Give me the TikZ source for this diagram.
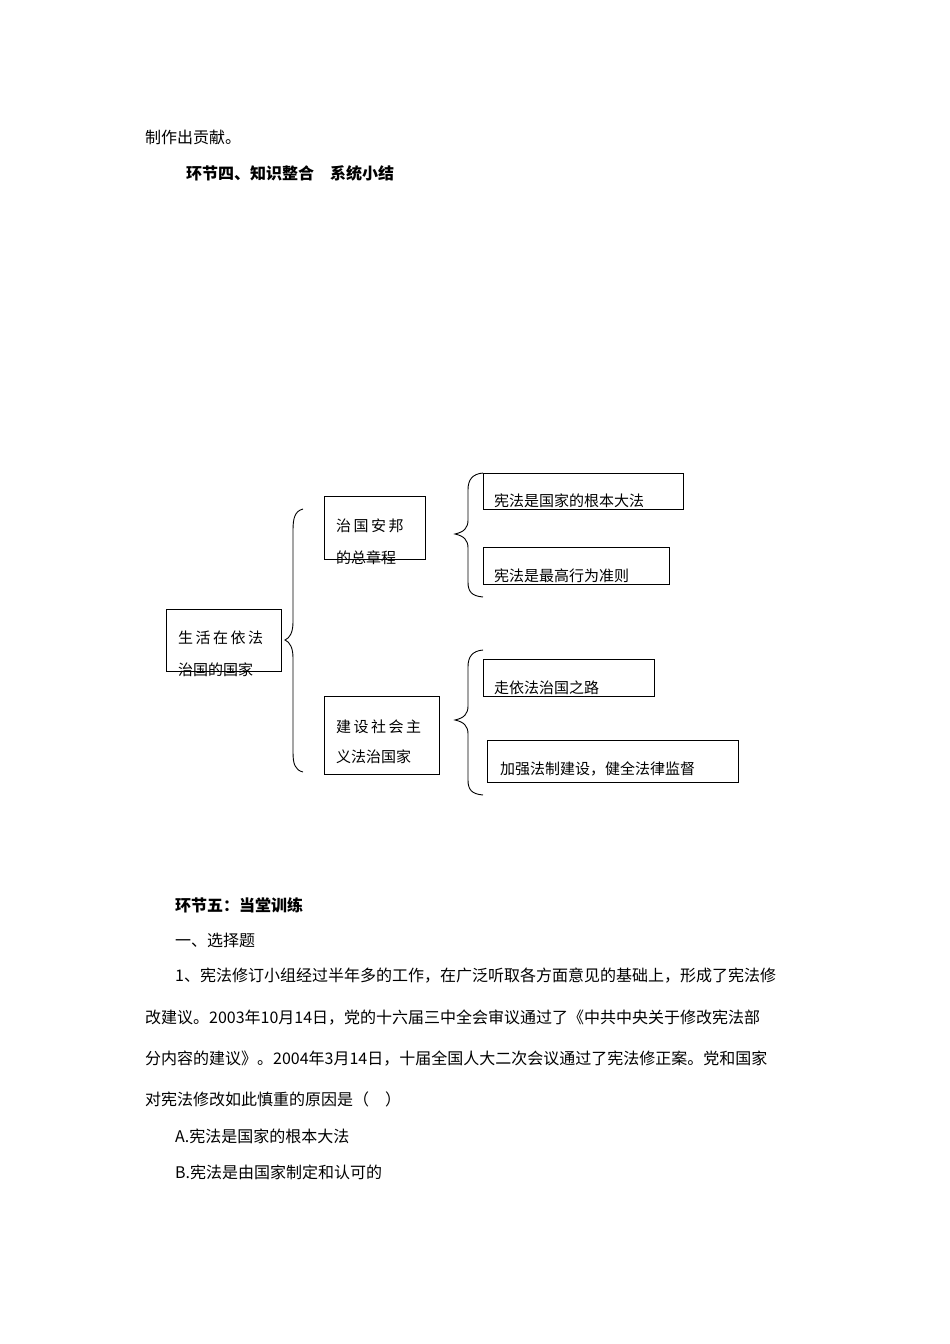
\documentclass[tikz,border=0pt]{standalone}
\usepackage{fontspec}
\setmainfont{Noto Sans CJK SC}
\newfontfamily\cjkb[BoldFont={* Bold}]{Noto Sans CJK SC}
\begin{document}
\begin{tikzpicture}[x=1pt,y=-1pt,
  bx/.style={draw,line width=0.8pt},
  tx/.style={anchor=west,inner sep=0pt,font=\fontsize{15}{18}\selectfont},
  body/.style={anchor=west,inner sep=0pt,font=\fontsize{16}{18}\selectfont},
  br/.style={line width=0.9pt}]
\fill[white] (0,0) rectangle (950,1344);
\useasboundingbox (0,0) rectangle (950,1344);
\node[body] (t1) at (145,137) {制作出贡献。};
\node[body,font=\fontsize{16}{18}\selectfont\bfseries] (t2) at (186,173) {环节四、知识整合\hspace{16pt}系统小结};
% boxes
\draw[bx] (166,609) rectangle (281,671); \coordinate (A) at (166,609);
\node[tx] (a1) at (178,638) {生\,活\,在\,依\,法};
\node[tx] (a2) at (178,670) {治国的国家};
\draw[bx] (324,496) rectangle (425,559);
\node[tx] (b1) at (336,526) {治\,国\,安\,邦};
\node[tx] (b2) at (336,558) {的总章程};
\draw[bx] (324,696) rectangle (439,774);
\node[tx] (c1) at (336,727) {建\,设\,社\,会\,主};
\node[tx] (c2) at (336,757) {义法治国家};
\draw[bx] (483,473) rectangle (683,509);
\node[tx] (d1) at (494,501) {宪法是国家的根本大法};
\draw[bx] (483,547) rectangle (669,584);
\node[tx] (d2) at (494,576) {宪法是最高行为准则};
\draw[bx] (483,659) rectangle (654,696);
\node[tx] (d3) at (494,688) {走依法治国之路};
\draw[bx] (487,740) rectangle (738,782);
\node[tx] (d4) at (500,769) {加强法制建设，健全法律监督};
% braces
\draw[br] (303,509) .. controls (295,511) and (293,518) .. (293,530) -- (293,622) .. controls (293,632) and (290,638) .. (285,640) .. controls (290,642) and (293,648) .. (293,658) -- (293,752) .. controls (293,764) and (295,770) .. (303,772);
\draw[br] (483,473) .. controls (472,474) and (468,480) .. (468,490) -- (468,520) .. controls (468,528) and (464,532) .. (455,534) .. controls (464,536) and (468,540) .. (468,548) -- (468,582) .. controls (468,592) and (472,596) .. (483,597);
\draw[br] (483,650) .. controls (472,651) and (468,657) .. (468,667) -- (468,706) .. controls (468,714) and (464,718) .. (455,720) .. controls (464,722) and (468,726) .. (468,734) -- (468,780) .. controls (468,790) and (472,794) .. (483,795);
% text below
\node[body,font=\fontsize{16}{18}\selectfont\bfseries] (h5) at (175,905) {环节五：当堂训练};
\node[body] (l1) at (175,940) {一、选择题};
\node[body] (l2) at (175,976) {1、宪法修订小组经过半年多的工作，在广泛听取各方面意见的基础上，形成了宪法修};
\node[body] (l3) at (145,1018) {改建议。2003年10月14日，党的十六届三中全会审议通过了《中共中央关于修改宪法部};
\node[body] (l4) at (145,1059) {分内容的建议》。2004年3月14日，十届全国人大二次会议通过了宪法修正案。党和国家};
\node[body] (l5) at (145,1099) {对宪法修改如此慎重的原因是（\hspace{16pt}）};
\node[body] (l6) at (175,1136) {A.宪法是国家的根本大法};
\node[body] (l7) at (175,1172) {B.宪法是由国家制定和认可的};
\end{tikzpicture}
\end{document}
